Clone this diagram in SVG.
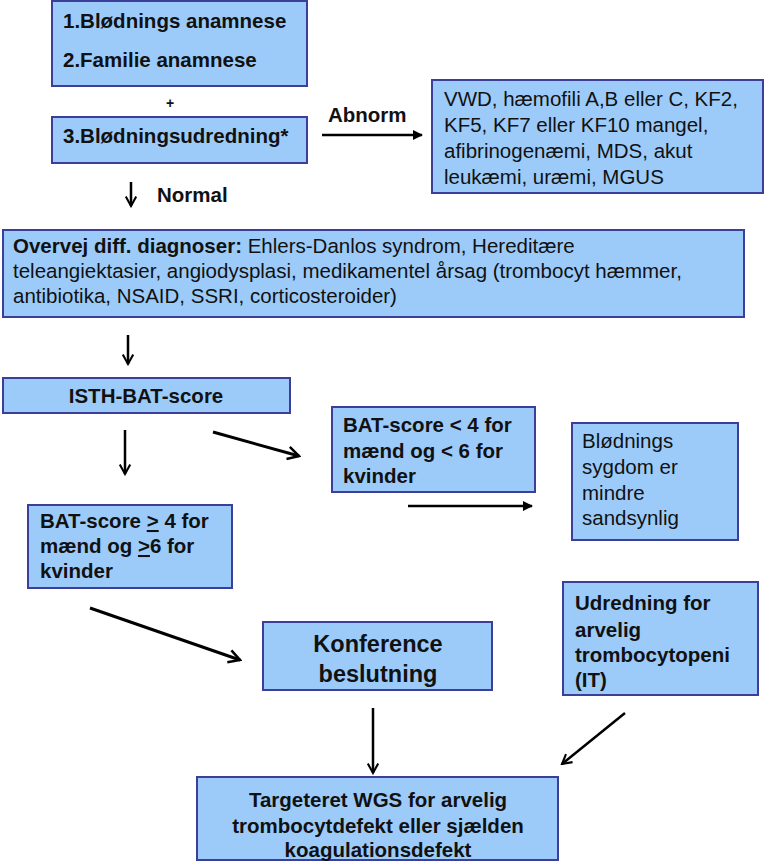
<svg xmlns="http://www.w3.org/2000/svg" width="764" height="862" viewBox="0 0 764 862">
<style>
.box{fill:#9ccbfa;stroke:#3c3f9a;stroke-width:2}
text{font-family:"Liberation Sans",Arial,sans-serif;fill:#111}
.b{font-weight:bold;font-size:20.5px}
.r{font-size:20.5px}
.c{text-anchor:middle}
.con{stroke:#000;fill:none;stroke-width:2.5}
</style>
<defs>
<marker id="ah" viewBox="0 0 12 12" refX="10" refY="6" markerWidth="5" markerHeight="5" orient="auto" markerUnits="strokeWidth">
<path d="M1,1 L10,6 L1,11" fill="none" stroke="#000" stroke-width="2"/>
</marker>
<marker id="tri" viewBox="0 0 10 10" refX="9" refY="5" markerWidth="4" markerHeight="4" orient="auto" markerUnits="strokeWidth">
<path d="M0,0 L10,5 L0,10 z" fill="#000"/>
</marker>
</defs>
<rect width="764" height="862" fill="#fff"/>
<g id="n1">
<rect class="box" x="52" y="1" width="255" height="85"/>
<text class="b" x="63" y="28">1.Blødnings anamnese</text>
<text class="b" x="63" y="67">2.Familie anamnese</text>
</g>
<g id="plus"><text class="b" x="170" y="108" style="font-size:14px" text-anchor="middle">+</text></g>
<g id="n3">
<rect class="box" x="52" y="117" width="255" height="46"/>
<text class="b" x="63" y="143">3.Blødningsudredning*</text>
</g>
<g id="nabn">
<rect class="box" x="432" y="80" width="331" height="113"/>
<text class="r" x="444" y="106">VWD, hæmofili A,B eller C, KF2,</text>
<text class="r" x="444" y="132">KF5, KF7 eller KF10 mangel,</text>
<text class="r" x="444" y="158">afibrinogenæmi, MDS, akut</text>
<text class="r" x="444" y="184">leukæmi, uræmi, MGUS</text>
</g>
<g id="ndiff">
<rect class="box" x="3" y="230" width="741" height="87"/>
<text class="r" x="13" y="253"><tspan font-weight="bold">Overvej diff. diagnoser:</tspan> Ehlers-Danlos syndrom, Hereditære</text>
<text class="r" x="13" y="278">teleangiektasier, angiodysplasi, medikamentel årsag (trombocyt hæmmer,</text>
<text class="r" x="13" y="303">antibiotika, NSAID, SSRI, corticosteroider)</text>
</g>
<g id="nisth">
<rect class="box" x="3" y="378" width="287" height="35"/>
<text class="b c" x="146" y="403">ISTH-BAT-score</text>
</g>
<g id="nlow">
<rect class="box" x="332" y="407" width="203" height="85"/>
<text class="b" x="343" y="432">BAT-score &lt; 4 for</text>
<text class="b" x="343" y="458">mænd og &lt; 6 for</text>
<text class="b" x="343" y="483">kvinder</text>
</g>
<g id="nless">
<rect class="box" x="572" y="423" width="166" height="117"/>
<text class="r" x="582" y="448">Blødnings</text>
<text class="r" x="582" y="474">sygdom er</text>
<text class="r" x="582" y="500">mindre</text>
<text class="r" x="582" y="525">sandsynlig</text>
</g>
<g id="nhigh">
<rect class="box" x="28" y="505" width="204" height="83"/>
<text class="b" x="40" y="528">BAT-score <tspan text-decoration="underline">&gt;</tspan> 4 for</text>
<text class="b" x="40" y="553">mænd og <tspan text-decoration="underline">&gt;</tspan>6 for</text>
<text class="b" x="40" y="578">kvinder</text>
</g>
<g id="nkonf">
<rect class="box" x="263" y="622" width="229" height="68"/>
<text class="b c" x="378" y="652" style="font-size:23.5px">Konference</text>
<text class="b c" x="378" y="682" style="font-size:23.5px">beslutning</text>
</g>
<g id="nit">
<rect class="box" x="563" y="582" width="195" height="113"/>
<text class="b" x="575" y="610">Udredning for</text>
<text class="b" x="575" y="637">arvelig</text>
<text class="b" x="575" y="662">trombocytopeni</text>
<text class="b" x="575" y="687">(IT)</text>
</g>
<g id="nwgs">
<rect class="box" x="197" y="777" width="361" height="83"/>
<text class="b c" x="378" y="807">Targeteret WGS for arvelig</text>
<text class="b c" x="378" y="833">trombocytdefekt eller sjælden</text>
<text class="b c" x="378" y="857">koagulationsdefekt</text>
</g>
<g id="labels">
<text class="b" x="328" y="122">Abnorm</text>
<text class="b" x="157" y="202">Normal</text>
</g>
<g id="connectors">
<line class="con" x1="322" y1="135" x2="422" y2="135" marker-end="url(#tri)"/>
<line class="con" x1="131" y1="182" x2="131" y2="206" marker-end="url(#ah)"/>
<line class="con" x1="128" y1="335" x2="128" y2="364" marker-end="url(#ah)"/>
<line class="con" x1="125" y1="430" x2="125" y2="474" marker-end="url(#ah)"/>
<line class="con" x1="213" y1="432" x2="299" y2="456" marker-end="url(#ah)" style="stroke-width:3"/>
<line class="con" x1="408" y1="506" x2="532" y2="506" marker-end="url(#tri)"/>
<line class="con" x1="90" y1="608" x2="240" y2="660" marker-end="url(#ah)" style="stroke-width:3"/>
<line class="con" x1="373" y1="708" x2="373" y2="773" marker-end="url(#ah)"/>
<line class="con" x1="625" y1="713" x2="562" y2="764" marker-end="url(#ah)"/>
</g>
</svg>
